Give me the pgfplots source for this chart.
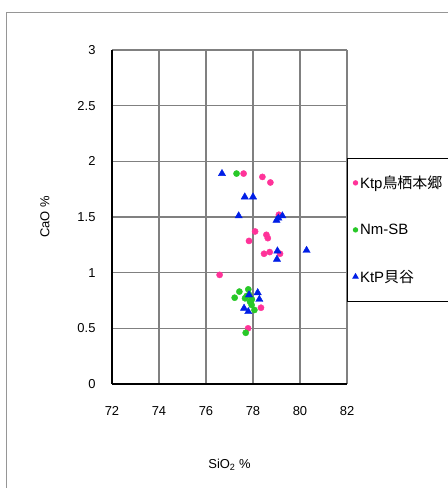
\documentclass[border=0pt]{standalone}
\usepackage{pgfplots}
\pgfplotsset{compat=1.18}
\usepackage{fontspec}
\setmainfont{Liberation Sans}
\newfontfamily\jp{Noto Sans CJK JP}
\definecolor{cpink}{RGB}{255,51,153}
\definecolor{cgreen}{RGB}{40,200,40}
\definecolor{cblue}{RGB}{0,30,230}
\definecolor{cgrid}{RGB}{128,128,128}
\begin{document}
\begin{tikzpicture}
\useasboundingbox (0bp,0bp) rectangle (448bp,488bp);
\draw[color={rgb,255:red,150;green,150;blue,150}, line width=0.9bp] (6bp,-5bp) -- (6bp,476bp) -- (460bp,476bp);
\begin{axis}[
  at={(112bp,104bp)}, anchor=south west,
  scale only axis, width=235bp, height=334bp,
  xmin=72, xmax=82, ymin=0, ymax=3,
  xtick={72,74,...,82}, ytick={0,0.5,...,3},
  grid=major,
  major grid style={cgrid, line width=1.1bp},
  axis x line*=bottom, axis y line*=left,
  axis line style={-, black, line width=1.3bp},
  major tick length=0pt,
  font=\fontsize{13}{15}\selectfont,
  /pgf/number format/assume math mode=true,
  xticklabel style={yshift=-19bp},
  yticklabel style={xshift=-13bp},
  xlabel={SiO\textsubscript{2} \%},
  ylabel={CaO \%},
  xlabel style={at={(axis description cs:0.5,-0.2425)}, anchor=center},
  ylabel style={at={(axis description cs:-0.285,0.5)}, anchor=center},
  legend image code/.code={\draw[#1] plot coordinates {(0bp,0bp)};},
  legend cell align=left,
  legend style={at={(axis description cs:1.002,0.677)}, anchor=north west,
    draw=black, line width=0.9bp, fill=white,
    inner xsep=5bp, inner ysep=15.5bp, row sep=30bp,
    font=\fontsize{15}{17}\selectfont},
]
\addplot[only marks, mark=*, mark size=3.1bp, color=cpink, legend image post style={mark size=2.2bp}] coordinates {
(77.6,1.89) (78.4,1.86) (78.74,1.81) (79.1,1.52) (78.09,1.37) (78.57,1.34)
(78.63,1.31) (77.83,1.285) (78.47,1.17) (78.71,1.185) (79.15,1.17)
(76.58,0.98) (78.34,0.685) (77.79,0.50)};
\addlegendentry{\makebox[100bp][l]{Ktp{\jp 鳥栖本郷}}}
\addplot[only marks, mark=*, mark size=3.1bp, color=cgreen, legend image post style={mark size=2.2bp}] coordinates {
(77.3,1.89) (77.42,0.83) (77.22,0.775) (77.8,0.85) (77.66,0.77) (77.73,0.79)
(77.87,0.74) (77.94,0.71) (78.06,0.665) (77.84,0.80) (77.69,0.46) (77.95,0.76)};
\addlegendentry{Nm-SB}
\addplot[only marks, mark=triangle*, mark size=4.2bp, color=cblue, legend image post style={mark size=3bp}] coordinates {
(76.68,1.89) (77.65,1.68) (78.0,1.68) (77.39,1.51) (79.0,1.47) (79.08,1.49)
(79.25,1.51) (79.04,1.195) (79.02,1.12) (80.28,1.20) (77.83,0.80) (78.2,0.82)
(78.27,0.76) (77.62,0.68) (77.8,0.65)};
\addlegendentry{KtP{\jp 貝谷}}
\end{axis}
\end{tikzpicture}
\end{document}
